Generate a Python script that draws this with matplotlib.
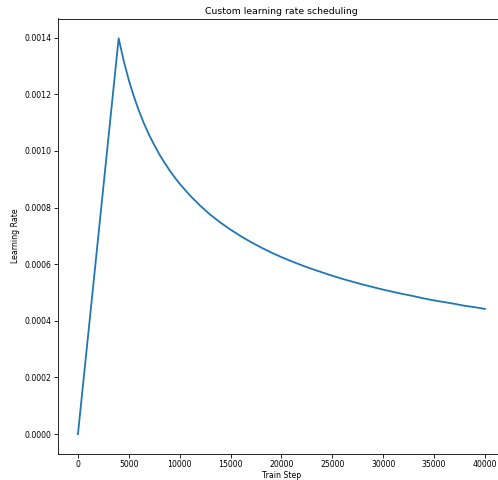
import matplotlib
matplotlib.use("Agg")
import matplotlib.pyplot as plt

# Learning-rate values sampled along the training run
train_steps = [0, 1000, 2000, 3000, 4000, 4500, 5000, 5500, 6000, 6500, 7000,
               7500, 8000, 8500, 9000, 9500, 10000, 11000, 12000, 13000, 14000,
               15000, 16000, 17000, 18000, 19000, 20000, 21000, 22000, 23000,
               24000, 25000, 26000, 27000, 28000, 29000, 30000, 31000, 32000,
               33000, 34000, 35000, 36000, 37000, 38000, 39000, 40000]
learning_rates = [0.0, 0.000349, 0.000699, 0.001048, 0.001398, 0.001318,
                  0.001250, 0.001192, 0.001141, 0.001096, 0.001056, 0.001021,
                  0.000988, 0.000959, 0.000932, 0.000907, 0.000884, 0.000843,
                  0.000807, 0.000775, 0.000747, 0.000722, 0.000699, 0.000678,
                  0.000659, 0.000641, 0.000625, 0.000610, 0.000596, 0.000583,
                  0.000571, 0.000559, 0.000548, 0.000538, 0.000528, 0.000519,
                  0.000510, 0.000502, 0.000494, 0.000487, 0.000479, 0.000472,
                  0.000466, 0.000460, 0.000453, 0.000448, 0.000442]

W, H = 498, 480
fig = plt.figure(figsize=(W / 100, H / 100), dpi=100)
left, right, top, bottom = 57.6, 505.3, 18.5, 453.8
ax = fig.add_axes([left / W, 1 - bottom / H, (right - left) / W, (bottom - top) / H])

ax.plot(train_steps, learning_rates, color="#1f77b4", linewidth=1.3)

ax.set_title("Custom learning rate scheduling", fontsize=6.75, pad=3)
ax.set_xlabel("Train Step", fontsize=5.6, labelpad=1.5)
ax.set_ylabel("Learning Rate", fontsize=5.6, labelpad=3)
ax.tick_params(labelsize=5.6, length=2.6, width=0.6, pad=2.0)
for sp in ax.spines.values():
    sp.set_linewidth(0.6)

fig.savefig("out.png", dpi=100)
